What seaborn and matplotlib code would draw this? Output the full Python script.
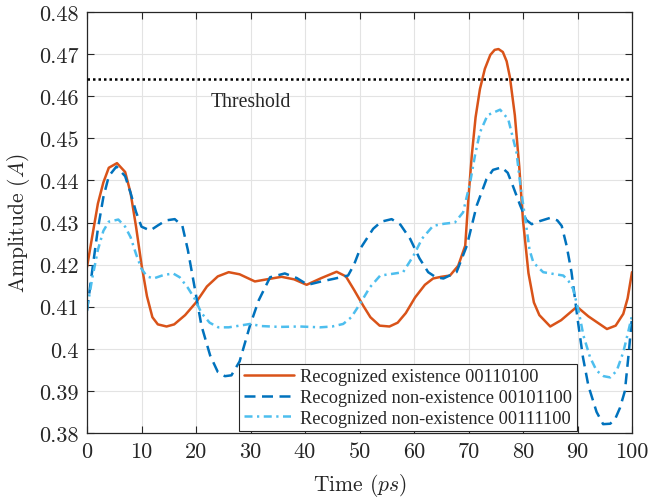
import matplotlib
matplotlib.use("Agg")
import matplotlib.pyplot as plt
import seaborn as sns
import pandas as pd
from matplotlib.ticker import FixedLocator, FixedFormatter

# ---------------- data ----------------
x_exist = [0, 1, 2, 3, 4, 5.5, 7, 8, 9, 10, 11, 12, 13, 14.6, 16, 18, 20, 22, 24, 26, 28,
           30.8, 33, 35.7, 38, 40.3, 43, 45.8, 47.5, 49, 50.7, 52, 53.7, 55.5, 57, 58.5,
           60.2, 62, 63.5, 65, 66.6, 68.1, 69.4, 70.0, 70.6, 71.3, 72.1, 73, 74, 74.8, 75.5,
           76.3, 77.0, 77.6, 78.5, 79.3, 80, 81, 82, 83, 85, 87, 89.9, 92, 95.4, 97, 98.4,
           99.2, 100]
y_exist = [0.4194, 0.427, 0.4345, 0.4395, 0.443, 0.4441, 0.442, 0.437, 0.429, 0.420,
           0.4125, 0.4075, 0.4058, 0.4053, 0.4058, 0.408, 0.411, 0.4148, 0.4172, 0.4182,
           0.4177, 0.4160, 0.4165, 0.4171, 0.4165, 0.4152, 0.4168, 0.4183, 0.4172, 0.4140,
           0.4102, 0.4075, 0.4055, 0.4053, 0.4062, 0.4085, 0.4122, 0.4152, 0.4167, 0.4171,
           0.4174, 0.4197, 0.4245, 0.436, 0.4459, 0.455, 0.4617, 0.4665, 0.4698, 0.4710,
           0.4712, 0.4705, 0.4683, 0.4645, 0.4555, 0.4435, 0.4305, 0.418, 0.411, 0.4080,
           0.4053, 0.4068, 0.4100, 0.4077, 0.4047, 0.4055, 0.4083, 0.4120, 0.4182]

x_non1 = [0, 1, 2, 3, 4, 5.4, 7, 8, 9, 10, 11.6, 13, 14.5, 16.1, 17.5, 18.5, 19.8, 21,
          22.6, 24, 25.3, 26.5, 28, 29.9, 31.5, 33.6, 36.3, 38.5, 40.5, 43, 45.2, 47.9,
          49, 50.1, 52.5, 54, 55.9, 57.5, 59.3, 61, 62.6, 64, 65.4, 67.8, 69.7, 71.5,
          73.3, 74.5, 76.1, 77.2, 78.2, 79.5, 80.6, 81.6, 83, 85, 86.3, 87.1, 88, 88.9,
          90.1, 91, 92, 93.5, 94.7, 96, 96.9, 97.8, 98.7, 99.4, 100]
y_non1 = [0.409, 0.419, 0.4285, 0.436, 0.441, 0.4433, 0.441, 0.437, 0.4325, 0.429,
          0.4281, 0.4293, 0.4305, 0.4308, 0.4292, 0.4235, 0.4142, 0.4055, 0.3984, 0.3945,
          0.3935, 0.3937, 0.3970, 0.4055, 0.4115, 0.4170, 0.4179, 0.4168, 0.4152, 0.4160,
          0.4166, 0.4174, 0.4200, 0.4237, 0.4285, 0.4302, 0.4308, 0.4295, 0.4261, 0.4215,
          0.4182, 0.4170, 0.4167, 0.4182, 0.4245, 0.4340, 0.4403, 0.4425, 0.4431, 0.4418,
          0.4385, 0.4340, 0.4306, 0.4296, 0.4303, 0.4311, 0.4305, 0.4292, 0.4245, 0.4182,
          0.4063, 0.3980, 0.3912, 0.3850, 0.3821, 0.3822, 0.3833, 0.3860, 0.3900, 0.3990,
          0.4075]

x_non2 = [0, 1, 2, 3, 4, 5.75, 7, 8, 9, 10, 11, 12.2, 14, 15.8, 17, 18.5, 19.8, 21, 22.5,
          24.1, 26, 28, 29.9, 32, 35.4, 39, 42.8, 45, 47, 48.5, 49.5, 50.7, 51.9, 53.8,
          56, 58, 59.9, 61.5, 63.5, 65.5, 67.5, 69, 70.3, 71.2, 72.1, 73.5, 75.8, 77.3,
          78.8, 79.6, 80.4, 81.2, 81.9, 83.7, 85.5, 87.4, 88.4, 89.2, 90.2, 91.1, 92.3,
          93.5, 94.8, 96, 97.2, 98.4, 99.3, 100]
y_non2 = [0.4095, 0.417, 0.4235, 0.428, 0.4302, 0.4307, 0.429, 0.4265, 0.4225, 0.419,
          0.4172, 0.4167, 0.4175, 0.4179, 0.4170, 0.4145, 0.4118, 0.4085, 0.4062, 0.4051,
          0.4051, 0.4055, 0.4059, 0.4054, 0.4052, 0.4053, 0.4051, 0.4053, 0.4059, 0.4075,
          0.4095, 0.4120, 0.4146, 0.4174, 0.4178, 0.4182, 0.4221, 0.4262, 0.4292, 0.4297,
          0.4300, 0.4324, 0.4395, 0.4460, 0.4514, 0.4555, 0.4568, 0.4545, 0.4467, 0.4380,
          0.4310, 0.4235, 0.4205, 0.4182, 0.4178, 0.4174, 0.4160, 0.4142, 0.4090, 0.4031,
          0.3980, 0.3948, 0.3935, 0.3932, 0.3948, 0.3992, 0.4040, 0.4079]

threshold = 0.464
labels = ["Recognized existence 00110100",
          "Recognized non-existence 00101100",
          "Recognized non-existence 00111100"]
x_ticks = [0, 10, 20, 30, 40, 50, 60, 70, 80, 90, 100]
x_ticklabels = ["0", "10", "20", "30", "40", "50", "60", "70", "80", "90", "100"]
y_ticks = [0.38, 0.39, 0.40, 0.41, 0.42, 0.43, 0.44, 0.45, 0.46, 0.47, 0.48]
y_ticklabels = ["0.38", "0.39", "0.4", "0.41", "0.42", "0.43", "0.44", "0.45", "0.46", "0.47", "0.48"]

# ---------------- style ----------------
sns.set_style("ticks")
plt.rcParams["font.family"] = ["cmr10", "DejaVu Serif"]
plt.rcParams["mathtext.fontset"] = "cm"
plt.rcParams["axes.formatter.use_mathtext"] = True

fig = plt.figure(figsize=(6.49, 5.02), dpi=100)
ax = fig.add_axes([87 / 649, 1 - 434 / 502, (632 - 87) / 649, (434 - 13) / 502])

c_or = "#D95319"
c_db = "#0072BD"
c_lb = "#4DBEEE"
lw = 1.8

df1 = pd.DataFrame({"t": x_exist, "a": y_exist})
df2 = pd.DataFrame({"t": x_non1, "a": y_non1})
df3 = pd.DataFrame({"t": x_non2, "a": y_non2})

sns.lineplot(data=df1, x="t", y="a", ax=ax, color=c_or, lw=lw, label=labels[0],
             linestyle="-")
sns.lineplot(data=df2, x="t", y="a", ax=ax, color=c_db, lw=lw, label=labels[1],
             linestyle=(0, (4.4, 2.6)))
sns.lineplot(data=df3, x="t", y="a", ax=ax, color=c_lb, lw=lw, label=labels[2],
             linestyle=(0, (3.2, 1.8, 0.9, 1.8)))

ax.axhline(threshold, color="black", lw=1.8, linestyle=(0, (1, 1.2)), zorder=3)
ax.text(30, 0.4588, "Threshold", ha="center", va="center", fontsize=14.2,
        family=["Liberation Serif"])

ax.set_xlim(0, 100)
ax.set_ylim(0.38, 0.48)
ax.xaxis.set_major_locator(FixedLocator(x_ticks))
ax.xaxis.set_major_formatter(FixedFormatter(x_ticklabels))
ax.yaxis.set_major_locator(FixedLocator(y_ticks))
ax.yaxis.set_major_formatter(FixedFormatter(y_ticklabels))

ax.grid(True, color="#e3e3e3", lw=0.8)
ax.set_axisbelow(True)
ax.tick_params(direction="in", length=5, width=0.8, top=True, right=True,
               labelsize=16, colors="#262626", pad=6)
for s in ax.spines.values():
    s.set_visible(True)
    s.set_color("#262626")
    s.set_linewidth(0.9)

ax.set_xlabel(r"Time $(ps)$", fontsize=15.5, color="#262626", labelpad=7)
ax.set_ylabel(r"Amplitude $(A)$", fontsize=15.5, color="#262626", labelpad=5)

leg = ax.legend(loc="lower right", bbox_to_anchor=(0.899, 0.004), frameon=True,
                fancybox=False, framealpha=1, edgecolor="#262626",
                prop={"family": "Liberation Serif", "size": 13.2},
                handlelength=2.75, handletextpad=0.35, borderpad=0.25,
                labelspacing=0.2, borderaxespad=0)
leg.get_frame().set_linewidth(0.8)

fig.savefig("out.png", dpi=100)
